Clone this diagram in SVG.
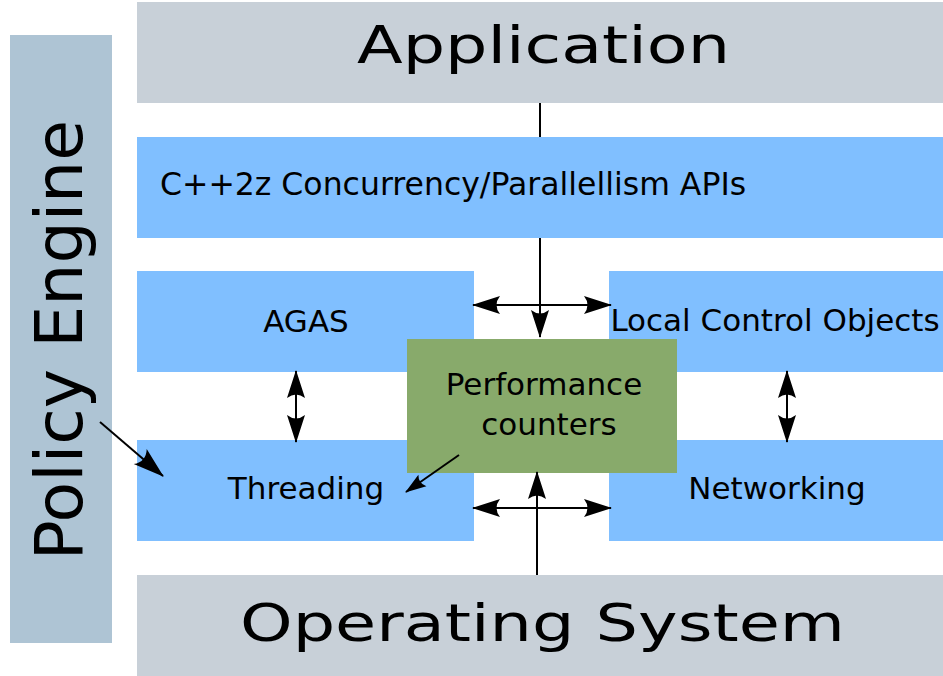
<svg xmlns="http://www.w3.org/2000/svg" width="943" height="676" viewBox="0 0 943 676">
<style>
text{font-family:"DejaVu Sans","Liberation Sans",sans-serif;fill:#000}
.gray{fill:#c8d0d8}
.blue{fill:#80bfff}
.green{fill:#88aa6b}
.pol{fill:#aec4d4}
.lbl{font-size:31px;text-anchor:middle}
.big{font-size:52px}
.c{stroke:#000;stroke-width:2;fill:none}
</style>
<defs>
<marker id="ah" markerUnits="userSpaceOnUse" viewBox="-30 -11 32 22" refX="0" refY="0" markerWidth="32" markerHeight="22" orient="auto-start-reverse">
<path d="M1,0 L-27,-9 Q-20,0 -27,9 Z" fill="#000"/>
</marker>
<marker id="ahs" markerUnits="userSpaceOnUse" viewBox="-24 -8 26 16" refX="0" refY="0" markerWidth="26" markerHeight="16" orient="auto-start-reverse">
<path d="M1,0 L-20,-7 Q-15,0 -20,7 Z" fill="#000"/>
</marker>
<marker id="ahl" markerUnits="userSpaceOnUse" viewBox="-32 -11 34 22" refX="0" refY="0" markerWidth="34" markerHeight="22" orient="auto-start-reverse">
<path d="M1,0 L-30,-10 Q-22,0 -30,10 Z" fill="#000"/>
</marker>
</defs>
<g id="policy-engine">
<rect class="pol" x="10" y="35" width="102" height="608"/>
<text x="82" y="340" font-size="66.5" text-anchor="middle" transform="rotate(-90 82 340)">Policy Engine</text>
</g>
<g id="application">
<rect class="gray" x="137" y="2" width="806" height="101"/>
<text class="big" x="357" y="63" textLength="373" lengthAdjust="spacingAndGlyphs">Application</text>
</g>
<g id="apis">
<rect class="blue" x="137" y="137" width="806" height="101"/>
<text x="160" y="195" font-size="31.5">C++2z Concurrency/Parallellism APIs</text>
</g>
<g id="agas">
<rect class="blue" x="137" y="271" width="337" height="101"/>
<text class="lbl" x="306" y="332">AGAS</text>
</g>
<g id="lco">
<rect class="blue" x="609" y="271" width="334" height="101"/>
<text class="lbl" x="775" y="331">Local Control Objects</text>
</g>
<g id="threading">
<rect class="blue" x="137" y="440" width="337" height="101"/>
<text class="lbl" x="306" y="499">Threading</text>
</g>
<g id="networking">
<rect class="blue" x="609" y="440" width="334" height="101"/>
<text class="lbl" x="777" y="499">Networking</text>
</g>
<g id="os">
<rect class="gray" x="137" y="575" width="806" height="101"/>
<text class="big" x="240" y="641" font-size="53" textLength="605" lengthAdjust="spacingAndGlyphs">Operating System</text>
</g>
<g id="perf">
<rect class="green" x="407" y="339" width="270" height="134"/>
<text class="lbl" x="544" y="395">Performance</text>
<text class="lbl" x="549" y="435">counters</text>
</g>
<g id="connectors">
<line class="c" x1="540" y1="103" x2="540" y2="137"/>
<line class="c" x1="540" y1="238" x2="540" y2="337" marker-end="url(#ah)"/>
<line class="c" x1="473" y1="305" x2="611" y2="305" marker-start="url(#ah)" marker-end="url(#ah)"/>
<line class="c" x1="537" y1="575" x2="537" y2="472" marker-end="url(#ah)"/>
<line class="c" x1="473" y1="508" x2="611" y2="508" marker-start="url(#ah)" marker-end="url(#ah)"/>
<line class="c" x1="296" y1="371" x2="296" y2="442" marker-start="url(#ah)" marker-end="url(#ah)"/>
<line class="c" x1="787" y1="371" x2="787" y2="442" marker-start="url(#ah)" marker-end="url(#ah)"/>
<line class="c" x1="100" y1="422" x2="163" y2="476" marker-end="url(#ahl)"/>
<line class="c" x1="459" y1="455" x2="406" y2="492" marker-end="url(#ahs)"/>
</g>
</svg>
